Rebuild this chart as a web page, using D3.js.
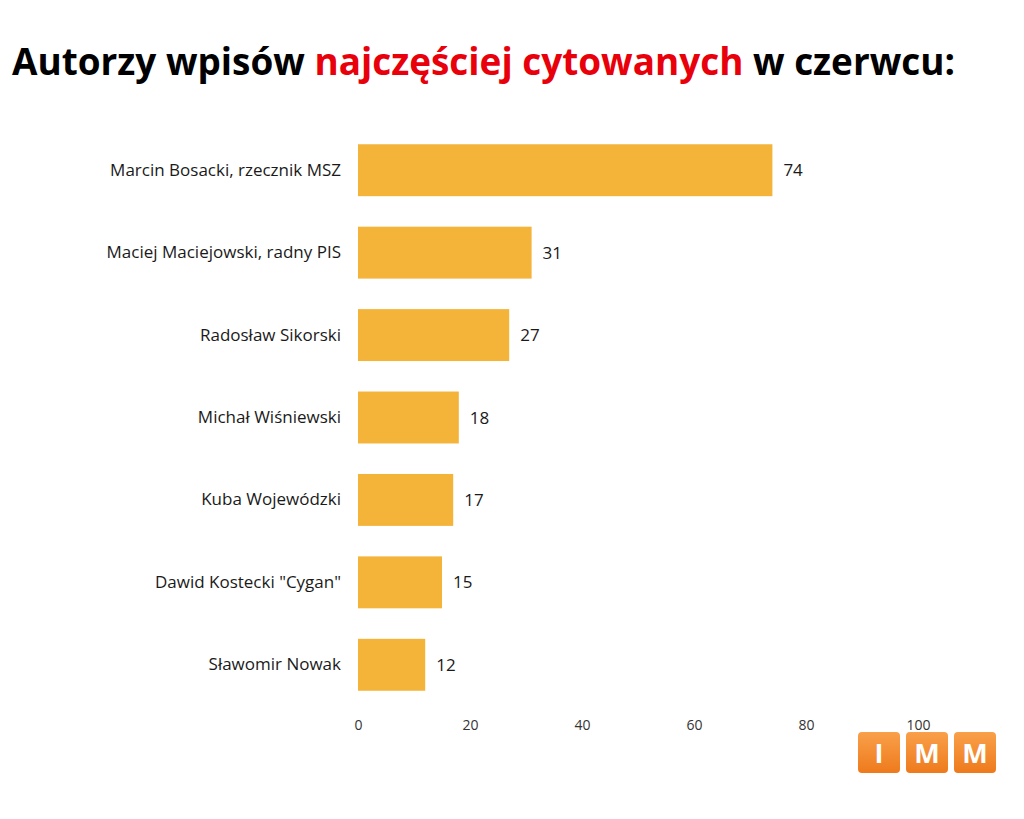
<!DOCTYPE html>
<html>
<head>
<meta charset="utf-8">
<script src="https://cdn.jsdelivr.net/npm/d3@7"></script>
<style>
  body { margin: 0; background: #fff; }
  svg { display: block; }
</style>
</head>
<body>
<div id="chart"></div>
<script>
// data
const authors = [
  "Marcin Bosacki, rzecznik MSZ",
  "Maciej Maciejowski, radny PIS",
  "Radosław Sikorski",
  "Michał Wiśniewski",
  "Kuba Wojewódzki",
  "Dawid Kostecki \"Cygan\"",
  "Sławomir Nowak"
];
const counts = [74, 31, 27, 18, 17, 15, 12];
const xTicks = [0, 20, 40, 60, 80, 100];

const width = 1024, height = 819;
const svg = d3.select("#chart").append("svg")
  .attr("width", width)
  .attr("height", height);

// title
const title = svg.append("text")
  .attr("x", 12)
  .attr("y", 75)
  .attr("font-family", "'Open Sans', sans-serif")
  .attr("font-weight", "bold")
  .attr("font-size", 37)
  .attr("textLength", 943)
  .attr("lengthAdjust", "spacingAndGlyphs");
title.append("tspan").attr("fill", "#000").text("Autorzy wpisów ");
title.append("tspan").attr("fill", "#e8000b").text("najczęściej cytowanych");
title.append("tspan").attr("fill", "#000").text(" w czerwcu:");

// scales
const x = d3.scaleLinear().domain([0, 100]).range([358, 918]);
const y = d3.scaleBand().domain(authors).range([129, 706]).paddingInner(0.37).paddingOuter(0.185);

const data = authors.map((a, i) => ({ name: a, value: counts[i] }));

// bars
svg.selectAll(".bar")
  .data(data)
  .enter().append("rect")
  .attr("class", "bar")
  .attr("x", x(0))
  .attr("y", d => y(d.name))
  .attr("width", d => x(d.value) - x(0))
  .attr("height", y.bandwidth())
  .attr("fill", "#f4b43a");

// value labels
svg.selectAll(".val")
  .data(data)
  .enter().append("text")
  .attr("class", "val")
  .attr("x", d => x(d.value) + 11)
  .attr("y", d => y(d.name) + y.bandwidth() / 2 + 6)
  .attr("font-family", "'Open Sans', sans-serif")
  .attr("font-size", 17)
  .attr("fill", "#1a1a1a")
  .text(d => d.value);

// category labels
const yAxis = svg.append("g")
  .attr("transform", `translate(${x(0) - 17},0)`)
  .call(d3.axisLeft(y).tickSize(0).tickPadding(0));
yAxis.select(".domain").remove();
yAxis.selectAll("text")
  .attr("font-family", "'Open Sans', sans-serif")
  .attr("font-size", 17)
  .attr("fill", "#1a1a1a");

// x axis (labels only)
const xAxis = svg.append("g")
  .attr("transform", "translate(0,720)")
  .call(d3.axisBottom(x).tickValues(xTicks).tickSize(0).tickPadding(0));
xAxis.select(".domain").remove();
xAxis.selectAll("text")
  .attr("font-family", "'Open Sans', sans-serif")
  .attr("font-size", 14)
  .attr("fill", "#333");

// IMM logo
const logoLetters = ["I", "M", "M"];
const defs = svg.append("defs");
const grad = defs.append("linearGradient").attr("id", "logoGrad")
  .attr("x1", 0).attr("y1", 0).attr("x2", 0).attr("y2", 1);
grad.append("stop").attr("offset", "0%").attr("stop-color", "#f9a04a");
grad.append("stop").attr("offset", "100%").attr("stop-color", "#ee7a1c");

const logo = svg.append("g").attr("transform", "translate(858,732)");
logo.selectAll("rect")
  .data(logoLetters)
  .enter().append("rect")
  .attr("x", (d, i) => i * 48)
  .attr("y", 0)
  .attr("width", 42)
  .attr("height", 41)
  .attr("rx", 4)
  .attr("fill", "url(#logoGrad)");
logo.selectAll("text")
  .data(logoLetters)
  .enter().append("text")
  .attr("x", (d, i) => i * 48 + 21)
  .attr("y", 31)
  .attr("text-anchor", "middle")
  .attr("font-family", "'Open Sans', sans-serif")
  .attr("font-weight", "bold")
  .attr("font-size", 27)
  .attr("fill", "#fff")
  .text(d => d);
</script>
</body>
</html>
